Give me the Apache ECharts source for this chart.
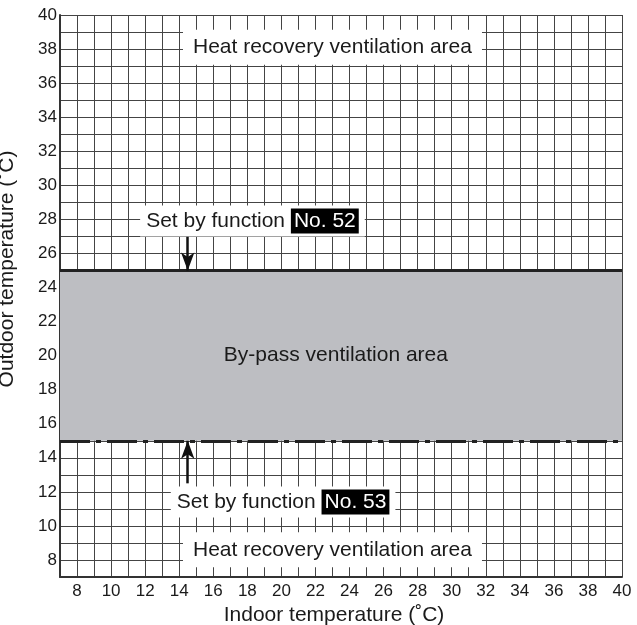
<!DOCTYPE html>
<html>
<head>
<meta charset="utf-8">
<script src="https://cdn.jsdelivr.net/npm/echarts@6/dist/echarts.min.js"></script>
<style>
  html, body { margin: 0; padding: 0; background: #fff; }
  #chart { width: 637px; height: 625px; }
</style>
</head>
<body>
<div id="chart"></div>
<script>
  // axis ranges (deg C)
  const indoorRange = [7, 40]
  const outdoorRange = [7, 40]
  // by-pass band between the two function settings
  const bypassLow = 15   // function No. 53
  const bypassHigh = 25  // function No. 52

  // area labels: [indoor, outdoor, text]
  const areaLabels = [
    [23, 38.1, 'Heat recovery ventilation area'],
    [23.2, 20, 'By-pass ventilation area'],
    [23, 8.6, 'Heat recovery ventilation area']
  ]
  // function labels: [indoor, outdoor, function no.]
  const funcLabels = [
    [18.3, 27.9, 'No. 52'],
    [20.1, 11.4, 'No. 53']
  ]
  // arrows: [indoor, from outdoor, to outdoor]
  const arrows = [
    [14.5, 27.2, bypassHigh],
    [14.5, 12.5, bypassLow]
  ]

  const chart = echarts.init(document.getElementById('chart'))
  const font = '"Liberation Sans", Arial, sans-serif'
  const ink = '#1a1a1a'

  const option = {
    animation: false,
    grid: { left: 60, right: 15, top: 15, bottom: 48, containLabel: false, outerBoundsMode: 'none' },
    xAxis: {
      type: 'value',
      min: indoorRange[0],
      max: indoorRange[1],
      interval: 1,
      name: 'Indoor temperature (˚C)',
      nameLocation: 'middle',
      nameGap: 19,
      nameTextStyle: { fontFamily: font, fontSize: 21, color: ink, padding: [0, 14, 0, 0] },
      axisLine: { lineStyle: { color: '#333', width: 2 } },
      axisTick: { show: false },
      axisLabel: {
        fontFamily: font, fontSize: 17, color: ink, margin: 6,
        formatter: v => (v % 2 === 0 ? String(v) : '')
      },
      splitLine: { show: true, lineStyle: { color: '#444', width: 1 } }
    },
    yAxis: {
      type: 'value',
      min: outdoorRange[0],
      max: outdoorRange[1],
      interval: 1,
      name: 'Outdoor temperature (˚C)',
      nameLocation: 'middle',
      nameGap: 42,
      nameTextStyle: { fontFamily: font, fontSize: 21, color: ink, padding: [0, 0, 0, 54] },
      axisLine: { lineStyle: { color: '#333', width: 2 } },
      axisTick: { show: false },
      axisLabel: {
        fontFamily: font, fontSize: 17, color: ink, margin: 3,
        formatter: v => (v % 2 === 0 ? String(v) : '')
      },
      splitLine: { show: true, lineStyle: { color: '#444', width: 1 } }
    },
    series: [
      {
        // by-pass band and its boundary lines
        type: 'line',
        data: [],
        z: 2,
        markArea: {
          silent: true,
          itemStyle: { color: '#bdbec2' },
          data: [[{ yAxis: bypassLow }, { yAxis: bypassHigh }]]
        },
        markLine: {
          silent: true,
          symbol: ['none', 'none'],
          label: { show: false },
          data: [
            { yAxis: bypassHigh, lineStyle: { color: '#222', width: 3, type: 'solid' } },
            { yAxis: bypassLow, lineStyle: { color: '#222', width: 3, type: [30, 6, 5, 6] } }
          ]
        }
      },
      {
        // arrows
        type: 'line',
        data: [],
        z: 3,
        markLine: {
          silent: true,
          symbol: ['none', 'arrow'],
          symbolSize: [10, 18],
          label: { show: false },
          lineStyle: { color: '#111', width: 2.5, type: 'solid' },
          data: arrows.map(a => [{ coord: [a[0], a[1]] }, { coord: [a[0], a[2]] }])
        }
      },
      {
        type: 'scatter',
        z: 5,
        symbolSize: 0,
        silent: true,
        itemStyle: { opacity: 1 },
        data: areaLabels.map((d, i) => ({
          value: [d[0], d[1]],
          label: {
            show: true,
            position: 'inside',
            formatter: d[2],
            fontFamily: font,
            fontSize: 21,
            color: ink,
            opacity: 1,
            textBorderWidth: 0,
            backgroundColor: i === 1 ? 'transparent' : '#fff',
            padding: [7, 10]
          }
        }))
      },
      {
        type: 'scatter',
        z: 5,
        symbolSize: 0,
        silent: true,
        itemStyle: { opacity: 1 },
        data: funcLabels.map(d => ({
          value: [d[0], d[1]],
          label: {
            show: true,
            position: 'inside',
            formatter: 'Set by function {n|' + d[2] + '}',
            fontFamily: font,
            fontSize: 21,
            color: ink,
            opacity: 1,
            textBorderWidth: 0,
            backgroundColor: '#fff',
            padding: [3, 6],
            rich: {
              n: {
                fontFamily: font,
                fontSize: 21,
                color: '#fff',
                textBorderWidth: 0,
                backgroundColor: '#000',
                padding: [2, 3]
              }
            }
          }
        }))
      }
    ]
  }

  chart.setOption(option)
  window.addEventListener('resize', () => {
    chart.resize()
  })
</script>
</body>
</html>
